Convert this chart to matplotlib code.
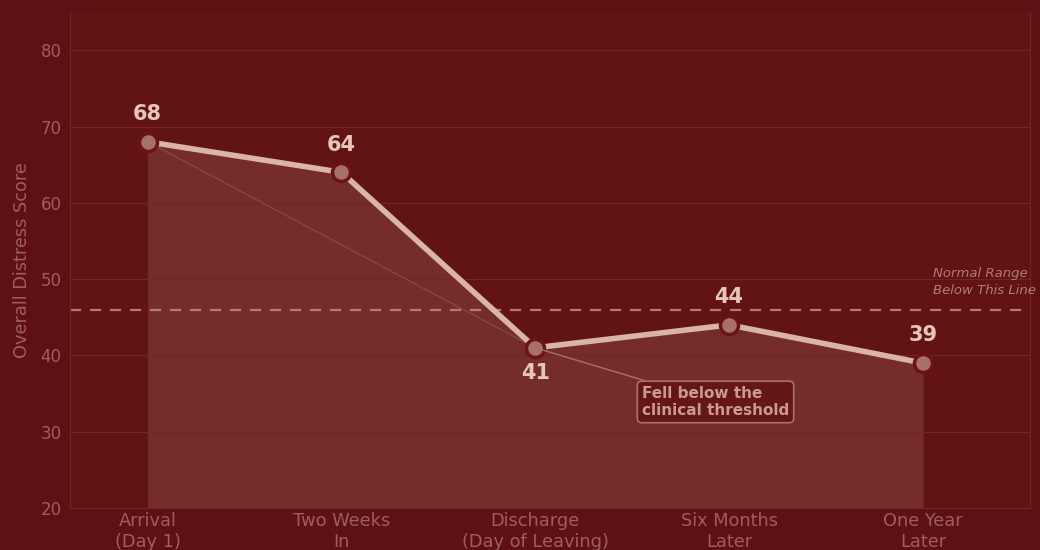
import matplotlib
matplotlib.use("Agg")
import matplotlib.pyplot as plt

plt.rcParams['font.family'] = ['DejaVu Sans']

stages = ["Arrival\n(Day 1)", "Two Weeks\nIn", "Discharge\n(Day of Leaving)", "Six Months\nLater", "One Year\nLater"]
scores = [68, 64, 41, 44, 39]
threshold = 46
yticks = [20, 30, 40, 50, 60, 70, 80]

BG = "#5e1012"
AX = "#621314"
FILL = "#793231"
LINE = "#d9b5a7"
TXT = "#9e5f5b"
LBL = "#e6c6b6"

fig = plt.figure(figsize=(10.4, 5.5), dpi=100, facecolor=BG)
ax = fig.add_axes([0.0673, 0.0764, 0.9227, 0.9016])
ax.set_facecolor(AX)

x = list(range(len(stages)))
ax.fill_between(x, scores, 20, color=FILL, alpha=0.85, linewidth=0, zorder=1)
ax.plot([x[0], x[2]], [scores[0], scores[2]], color="#8a4a47", lw=0.8, zorder=2)
ax.plot(x, scores, color=LINE, lw=4, zorder=3, solid_capstyle="round")
ax.plot(x, scores, 'o', ms=13, mfc="#a8706b", mec="#6c1414", mew=2.5, zorder=4)

ax.axhline(threshold, color="#b07e76", lw=1.6, ls=(0, (5, 4)), zorder=2)
ax.text(4.05, threshold + 3.6, "Normal Range\nBelow This Line", color="#b07e76",
        fontsize=9.5, style="italic", ha="left", va="center", linespacing=1.45)

for xi, s in zip(x, scores):
    if xi == 2:
        ax.text(xi, s - 2.0, str(s), ha="center", va="top", color=LBL, fontsize=15, fontweight="bold", zorder=5)
    else:
        ax.text(xi, s + 2.3, str(s), ha="center", va="bottom", color=LBL, fontsize=15, fontweight="bold", zorder=5)

ax.annotate("Fell below the\nclinical threshold", xy=(x[2], scores[2]), xytext=(2.55, 33.9),
            ha="left", va="center", color="#c99a90", fontsize=11, fontweight="bold",
            bbox=dict(boxstyle="round,pad=0.3", fc="#651616", ec="#a8716b", lw=1.2),
            arrowprops=dict(arrowstyle="-", color="#a8716b", lw=1.0, shrinkA=0, shrinkB=0), zorder=5)

ax.set_xlim(-0.4, 4.55)
ax.set_ylim(20, 85)
ax.set_yticks(yticks)
ax.set_xticks(x)
ax.set_xticklabels(stages)
ax.tick_params(colors=TXT, length=0)
ax.tick_params(axis="y", labelsize=12, pad=6)
ax.tick_params(axis="x", labelsize=12.8, pad=3)
ax.set_ylabel("Overall Distress Score", color=TXT, fontsize=12.8, labelpad=7)
ax.grid(axis="y", color="#742525", lw=0.8, zorder=0)
ax.spines["top"].set_visible(False)
for side in ["left", "bottom", "right"]:
    ax.spines[side].set_color("#742525")
    ax.spines[side].set_linewidth(0.8)

fig.savefig("out.png", dpi=100, facecolor=BG)
